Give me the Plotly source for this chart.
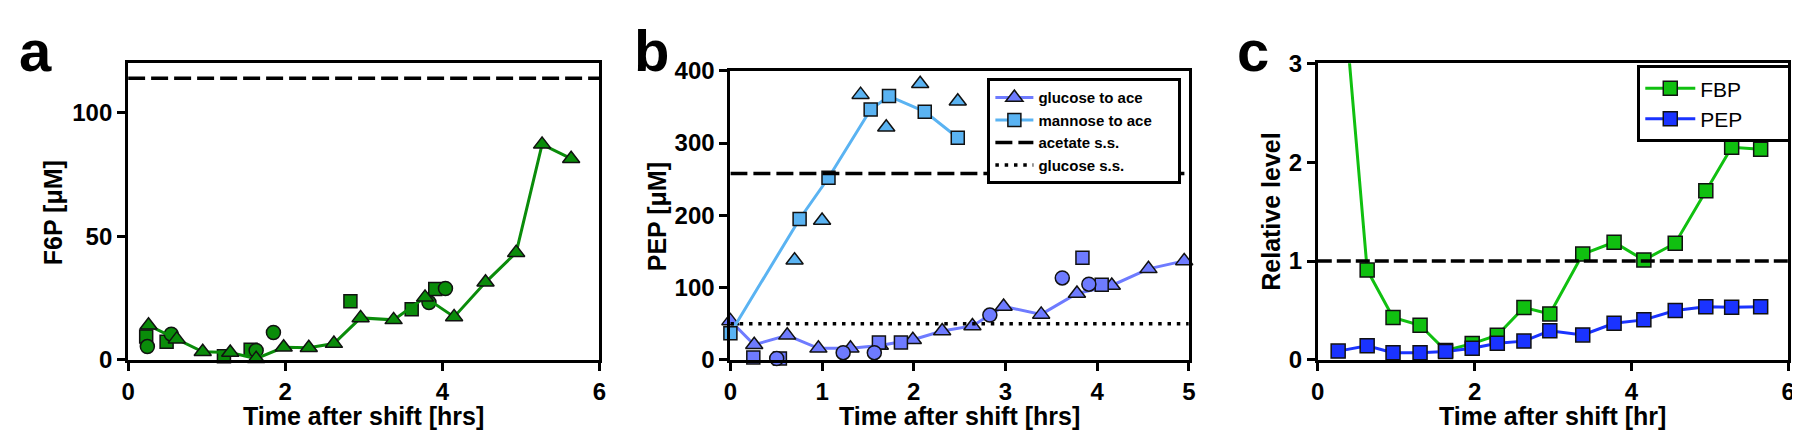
import plotly.graph_objects as go

# Colours and fonts
INK = "#000000"
GREEN_A = "#0A8C0A"
BLUE_GLC = "#6E7BFF"
BLUE_MAN = "#5AB3F2"
GREEN_C = "#10C010"
BLUE_C = "#1A33FF"
FONT = "Liberation Sans, Arial, Helvetica, sans-serif"

# ---- panel a: F6P after shift ----
A_TRI_X = [0.26, 0.62, 0.95, 1.30, 1.63, 1.98, 2.30, 2.62, 2.96, 3.38, 3.78, 4.15, 4.55, 4.94, 5.27, 5.64]
A_TRI_Y = [14.0, 8.4, 3.3, 3.0, 0.5, 5.1, 4.9, 6.6, 17.0, 16.2, 25.3, 17.4, 31.4, 43.4, 87.2, 81.4]
A_SQ_X = [0.23, 0.49, 1.22, 1.56, 2.83, 3.61, 3.91]
A_SQ_Y = [9.5, 7.3, 1.5, 4.1, 23.7, 20.5, 28.7]
A_CIR_X = [0.245, 0.55, 1.63, 1.85, 3.83, 4.04]
A_CIR_Y = [5.4, 10.4, 3.8, 11.1, 23.2, 28.9]
F6P_ACETATE_SS = 114

# ---- panel b: PEP after shift ----
B_GLC_X = [0, 0.26, 0.62, 0.96, 1.31, 1.63, 1.99, 2.31, 2.64, 2.98, 3.39, 3.78, 4.16, 4.56, 4.95]
B_GLC_Y = [54, 21, 34, 16, 16, 20, 28, 40, 47, 74, 63, 92, 103, 126, 137]
B_GLC_SQ_X = [0.25, 0.54, 1.62, 1.86, 3.84, 4.05]
B_GLC_SQ_Y = [3.5, 2, 24, 24, 141.5, 104]
B_GLC_CIR_X = [0.505, 1.23, 1.57, 2.83, 3.62, 3.91]
B_GLC_CIR_Y = [2, 10, 10, 62, 113.4, 104.8]
B_MAN_X = [0, 0.755, 1.07, 1.53, 1.73, 2.12, 2.48]
B_MAN_Y = [37, 195, 252, 346.5, 365, 343.5, 307.4]
B_MAN_TRI_X = [0.70, 1.0, 1.42, 1.70, 2.07, 2.48]
B_MAN_TRI_Y = [138, 193, 367, 322, 382, 358]
PEP_ACETATE_SS = 258
PEP_GLUCOSE_SS = 50

# ---- panel c: relative levels ----
C_X = [0.26, 0.63, 0.96, 1.305, 1.63, 1.97, 2.29, 2.63, 2.96, 3.38, 3.78, 4.16, 4.56, 4.95, 5.28, 5.65]
C_FBP = [4.35, 0.91, 0.43, 0.35, 0.095, 0.165, 0.25, 0.53, 0.465, 1.07, 1.19, 1.01, 1.18, 1.71, 2.15, 2.13]
C_PEP = [0.089, 0.142, 0.073, 0.073, 0.085, 0.117, 0.168, 0.19, 0.294, 0.253, 0.37, 0.405, 0.50, 0.538, 0.532, 0.538]
C_REF = 1

X_RANGE_A = [0, 6]
X_RANGE_B = [0, 5]
X_RANGE_C = [0, 6]

PAD = "\u00a0"


def axis(domain, rng, tickvals, anchor):
    return dict(
        domain=domain, range=rng, tickvals=tickvals, anchor=anchor,
        showline=True, mirror=True, linecolor=INK, linewidth=3,
        ticks="outside", ticklen=8, tickwidth=3, tickcolor=INK,
        tickfont=dict(family=FONT, size=24, color=INK, weight="bold"),
        showgrid=False, zeroline=False, fixedrange=True,
    )


def mk(symbol, color, size=12):
    return dict(symbol=symbol, size=size, color=color, line=dict(color="#111111", width=1.5))


fig = go.Figure()

# panel a
fig.add_trace(go.Scatter(x=A_SQ_X, y=A_SQ_Y, mode="markers", marker=mk("square", GREEN_A, 13),
                         xaxis="x", yaxis="y", showlegend=False, cliponaxis=False))
fig.add_trace(go.Scatter(x=A_CIR_X, y=A_CIR_Y, mode="markers", marker=mk("circle", GREEN_A, 14),
                         xaxis="x", yaxis="y", showlegend=False, cliponaxis=False))
fig.add_trace(go.Scatter(x=A_TRI_X, y=A_TRI_Y, mode="lines+markers", line=dict(color=GREEN_A, width=3),
                         marker=mk("triangle-up", GREEN_A, 15), xaxis="x", yaxis="y",
                         showlegend=False, cliponaxis=False))
fig.add_trace(go.Scatter(x=X_RANGE_A, y=[F6P_ACETATE_SS] * 2, mode="lines",
                         line=dict(color=INK, width=3.5, dash="17px,6px"),
                         xaxis="x", yaxis="y", showlegend=False))

# panel b
fig.add_trace(go.Scatter(x=B_GLC_X, y=B_GLC_Y, mode="lines+markers", name="glucose to ace" + PAD * 5,
                         line=dict(color=BLUE_GLC, width=3), marker=mk("triangle-up", BLUE_GLC, 15),
                         xaxis="x2", yaxis="y2", legend="legend", cliponaxis=False))
fig.add_trace(go.Scatter(x=B_MAN_X, y=B_MAN_Y, mode="lines+markers", name="mannose to ace" + PAD * 5,
                         line=dict(color=BLUE_MAN, width=3), marker=mk("square", BLUE_MAN, 13),
                         xaxis="x2", yaxis="y2", legend="legend", cliponaxis=False))
fig.add_trace(go.Scatter(x=X_RANGE_B, y=[PEP_ACETATE_SS] * 2, mode="lines", name="acetate s.s.",
                         line=dict(color=INK, width=3.5, dash="17px,6px"),
                         xaxis="x2", yaxis="y2", legend="legend"))
fig.add_trace(go.Scatter(x=X_RANGE_B, y=[PEP_GLUCOSE_SS] * 2, mode="lines", name="glucose s.s.",
                         line=dict(color=INK, width=3.5, dash="3.5px,5.8px"),
                         xaxis="x2", yaxis="y2", legend="legend"))
fig.add_trace(go.Scatter(x=B_GLC_SQ_X, y=B_GLC_SQ_Y, mode="markers", marker=mk("square", BLUE_GLC, 13),
                         xaxis="x2", yaxis="y2", showlegend=False, cliponaxis=False))
fig.add_trace(go.Scatter(x=B_GLC_CIR_X, y=B_GLC_CIR_Y, mode="markers", marker=mk("circle", BLUE_GLC, 14),
                         xaxis="x2", yaxis="y2", showlegend=False, cliponaxis=False))
fig.add_trace(go.Scatter(x=B_MAN_TRI_X, y=B_MAN_TRI_Y, mode="markers", marker=mk("triangle-up", BLUE_MAN, 15),
                         xaxis="x2", yaxis="y2", showlegend=False, cliponaxis=False))

# panel c
fig.add_trace(go.Scatter(x=C_X, y=C_FBP, mode="lines+markers", name="FBP" + PAD * 7,
                         line=dict(color=GREEN_C, width=3), marker=mk("square", GREEN_C, 14),
                         xaxis="x3", yaxis="y3", legend="legend2"))
fig.add_trace(go.Scatter(x=C_X, y=C_PEP, mode="lines+markers", name="PEP" + PAD * 7,
                         line=dict(color=BLUE_C, width=3), marker=mk("square", BLUE_C, 14),
                         xaxis="x3", yaxis="y3", legend="legend2", cliponaxis=False))
fig.add_trace(go.Scatter(x=X_RANGE_C, y=[C_REF] * 2, mode="lines",
                         line=dict(color=INK, width=3.5, dash="14px,5px"),
                         xaxis="x3", yaxis="y3", showlegend=False))

W, H = 1800, 440


def px(x):
    return x / W


def py(y):
    return 1 - y / H


fig.update_layout(
    width=W, height=H,
    margin=dict(l=0, r=0, t=0, b=0),
    paper_bgcolor="white", plot_bgcolor="white",
    font=dict(family=FONT, color=INK),
    xaxis=axis([px(114), px(589)], X_RANGE_A, [0, 2, 4, 6], "y"),
    yaxis=axis([py(360), py(44)], [0, 120], [0, 50, 100], "x"),
    xaxis2=axis([px(721), px(1183)], X_RANGE_B, [0, 1, 2, 3, 4, 5], "y2"),
    yaxis2=axis([py(360), py(52)], [0, 400], [0, 100, 200, 300, 400], "x2"),
    xaxis3=axis([px(1313), px(1787)], X_RANGE_C, [0, 2, 4, 6], "y3"),
    yaxis3=axis([py(360), py(44)], [0, 3], [0, 1, 2, 3], "x3"),
    legend=dict(x=px(980), y=py(60), xanchor="left", yanchor="top",
                bgcolor="white", bordercolor=INK, borderwidth=3,
                font=dict(family=FONT, size=15, color=INK, weight="bold"),
                tracegroupgap=0, itemwidth=38),
    legend2=dict(x=px(1635), y=py(46), xanchor="left", yanchor="top",
                 bgcolor="white", bordercolor=INK, borderwidth=3,
                 font=dict(family=FONT, size=21, color=INK), itemwidth=50),
)

title_font = dict(family=FONT, size=25, color=INK, weight="bold")
letter_font = dict(family=FONT, size=58, color=INK, weight="bold")
notes = [
    ("F6P [μM]", 38, 203, -90, title_font),
    ("PEP [μM]", 647, 207, -90, title_font),
    ("Relative level", 1265, 202, -90, title_font),
    ("Time after shift [hrs]", 351.5, 420, 0, title_font),
    ("Time after shift [hrs]", 952, 420, 0, title_font),
    ("Time after shift [hr]", 1550, 420, 0, title_font),
    ("a", 21, 30, 0, letter_font),
    ("b", 641, 30, 0, letter_font),
    ("c", 1248, 30, 0, letter_font),
]
for text, x, y, ang, f in notes:
    fig.add_annotation(text=text, x=px(x), y=py(y), xref="paper", yref="paper",
                       xanchor="center", yanchor="middle", textangle=ang,
                       showarrow=False, font=f)

fig.write_html("out.html", config={"displayModeBar": False})
